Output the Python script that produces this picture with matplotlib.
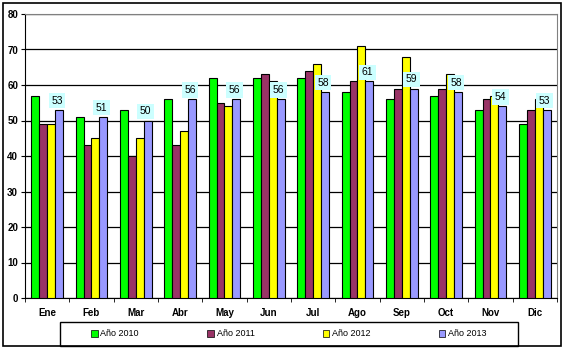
import numpy as np
import matplotlib
matplotlib.use('Agg')
import matplotlib.pyplot as plt
from matplotlib.patches import Rectangle

plt.rcParams['font.family'] = ['Liberation Sans', 'DejaVu Sans']

# datos
meses = ['Ene', 'Feb', 'Mar', 'Abr', 'May', 'Jun', 'Jul', 'Ago', 'Sep', 'Oct', 'Nov', 'Dic']
anio_2010 = [57, 51, 53, 56, 62, 62, 62, 58, 56, 57, 53, 49]
anio_2011 = [49, 43, 40, 43, 55, 63, 64, 61, 59, 59, 56, 53]
anio_2012 = [49, 45, 45, 47, 54, 61, 66, 71, 68, 63, 57, 56]
anio_2013 = [53, 51, 50, 56, 56, 56, 58, 61, 59, 58, 54, 53]
series = ['Año 2010', 'Año 2011', 'Año 2012', 'Año 2013']
colores = ['#00FF00', '#993366', '#FFFF00', '#9999FF']

fig = plt.figure(figsize=(5.67, 3.51), dpi=100)
ax = fig.add_axes([25/567, 53/351, 532/567, 284/351])

x = np.arange(len(meses))
w = 0.18
datos = [anio_2010, anio_2011, anio_2012, anio_2013]
barras = []
for i, (vals, col, nom) in enumerate(zip(datos, colores, series)):
    b = ax.bar(x + (i - 1.5) * w, vals, w, color=col, edgecolor='black', linewidth=0.8,
               label=nom, zorder=3)
    barras.append(b)

# etiquetas de 2013
for xi, v in zip(x, anio_2013):
    ax.text(xi + 1.5 * w - 0.05, v + 1.2, str(v), ha='center', va='bottom', fontsize=7.5,
            zorder=5, bbox=dict(boxstyle='square,pad=0.25', fc='#CCFFFF', ec='none'))

ax.set_xlim(-0.5, len(meses) - 0.5)
ax.set_ylim(0, 80)
ax.set_yticks(range(0, 81, 10))
ax.yaxis.grid(True, color='black', linewidth=0.9, zorder=0)
ax.set_xticks(x)
ax.set_xticklabels(meses, fontsize=7, fontweight='bold')
ax.set_xticks(np.arange(-0.5, len(meses), 1), minor=True)
ax.tick_params(axis='x', which='major', length=0, pad=7)
ax.tick_params(axis='x', which='minor', length=3, direction='out')
ax.tick_params(axis='y', length=3, labelsize=7, pad=2)
for t in ax.get_yticklabels():
    t.set_fontweight('bold')

ax.spines['top'].set_color('gray')
ax.spines['right'].set_color('gray')
ax.spines['left'].set_color('black')
ax.spines['bottom'].set_color('black')

# leyenda
leg = fig.legend(handles=barras, labels=series, loc='center',
                 bbox_to_anchor=(289/567, 17/351), ncol=4, fontsize=6.5, frameon=False,
                 handlelength=0.7, handleheight=0.7, handletextpad=0.3, columnspacing=7.6)
for h in leg.legend_handles:
    h.set_linewidth(0.5)
fig.patches.append(Rectangle((60/567, 5/351), 458/567, 24/351, transform=fig.transFigure,
                             fill=False, edgecolor='black', linewidth=1.0))

# borde exterior
fig.patches.append(Rectangle((3/567, 5/351), 558/567, 343/351, transform=fig.transFigure,
                             fill=False, edgecolor='black', linewidth=1.2))

fig.savefig('out.png', dpi=100)
